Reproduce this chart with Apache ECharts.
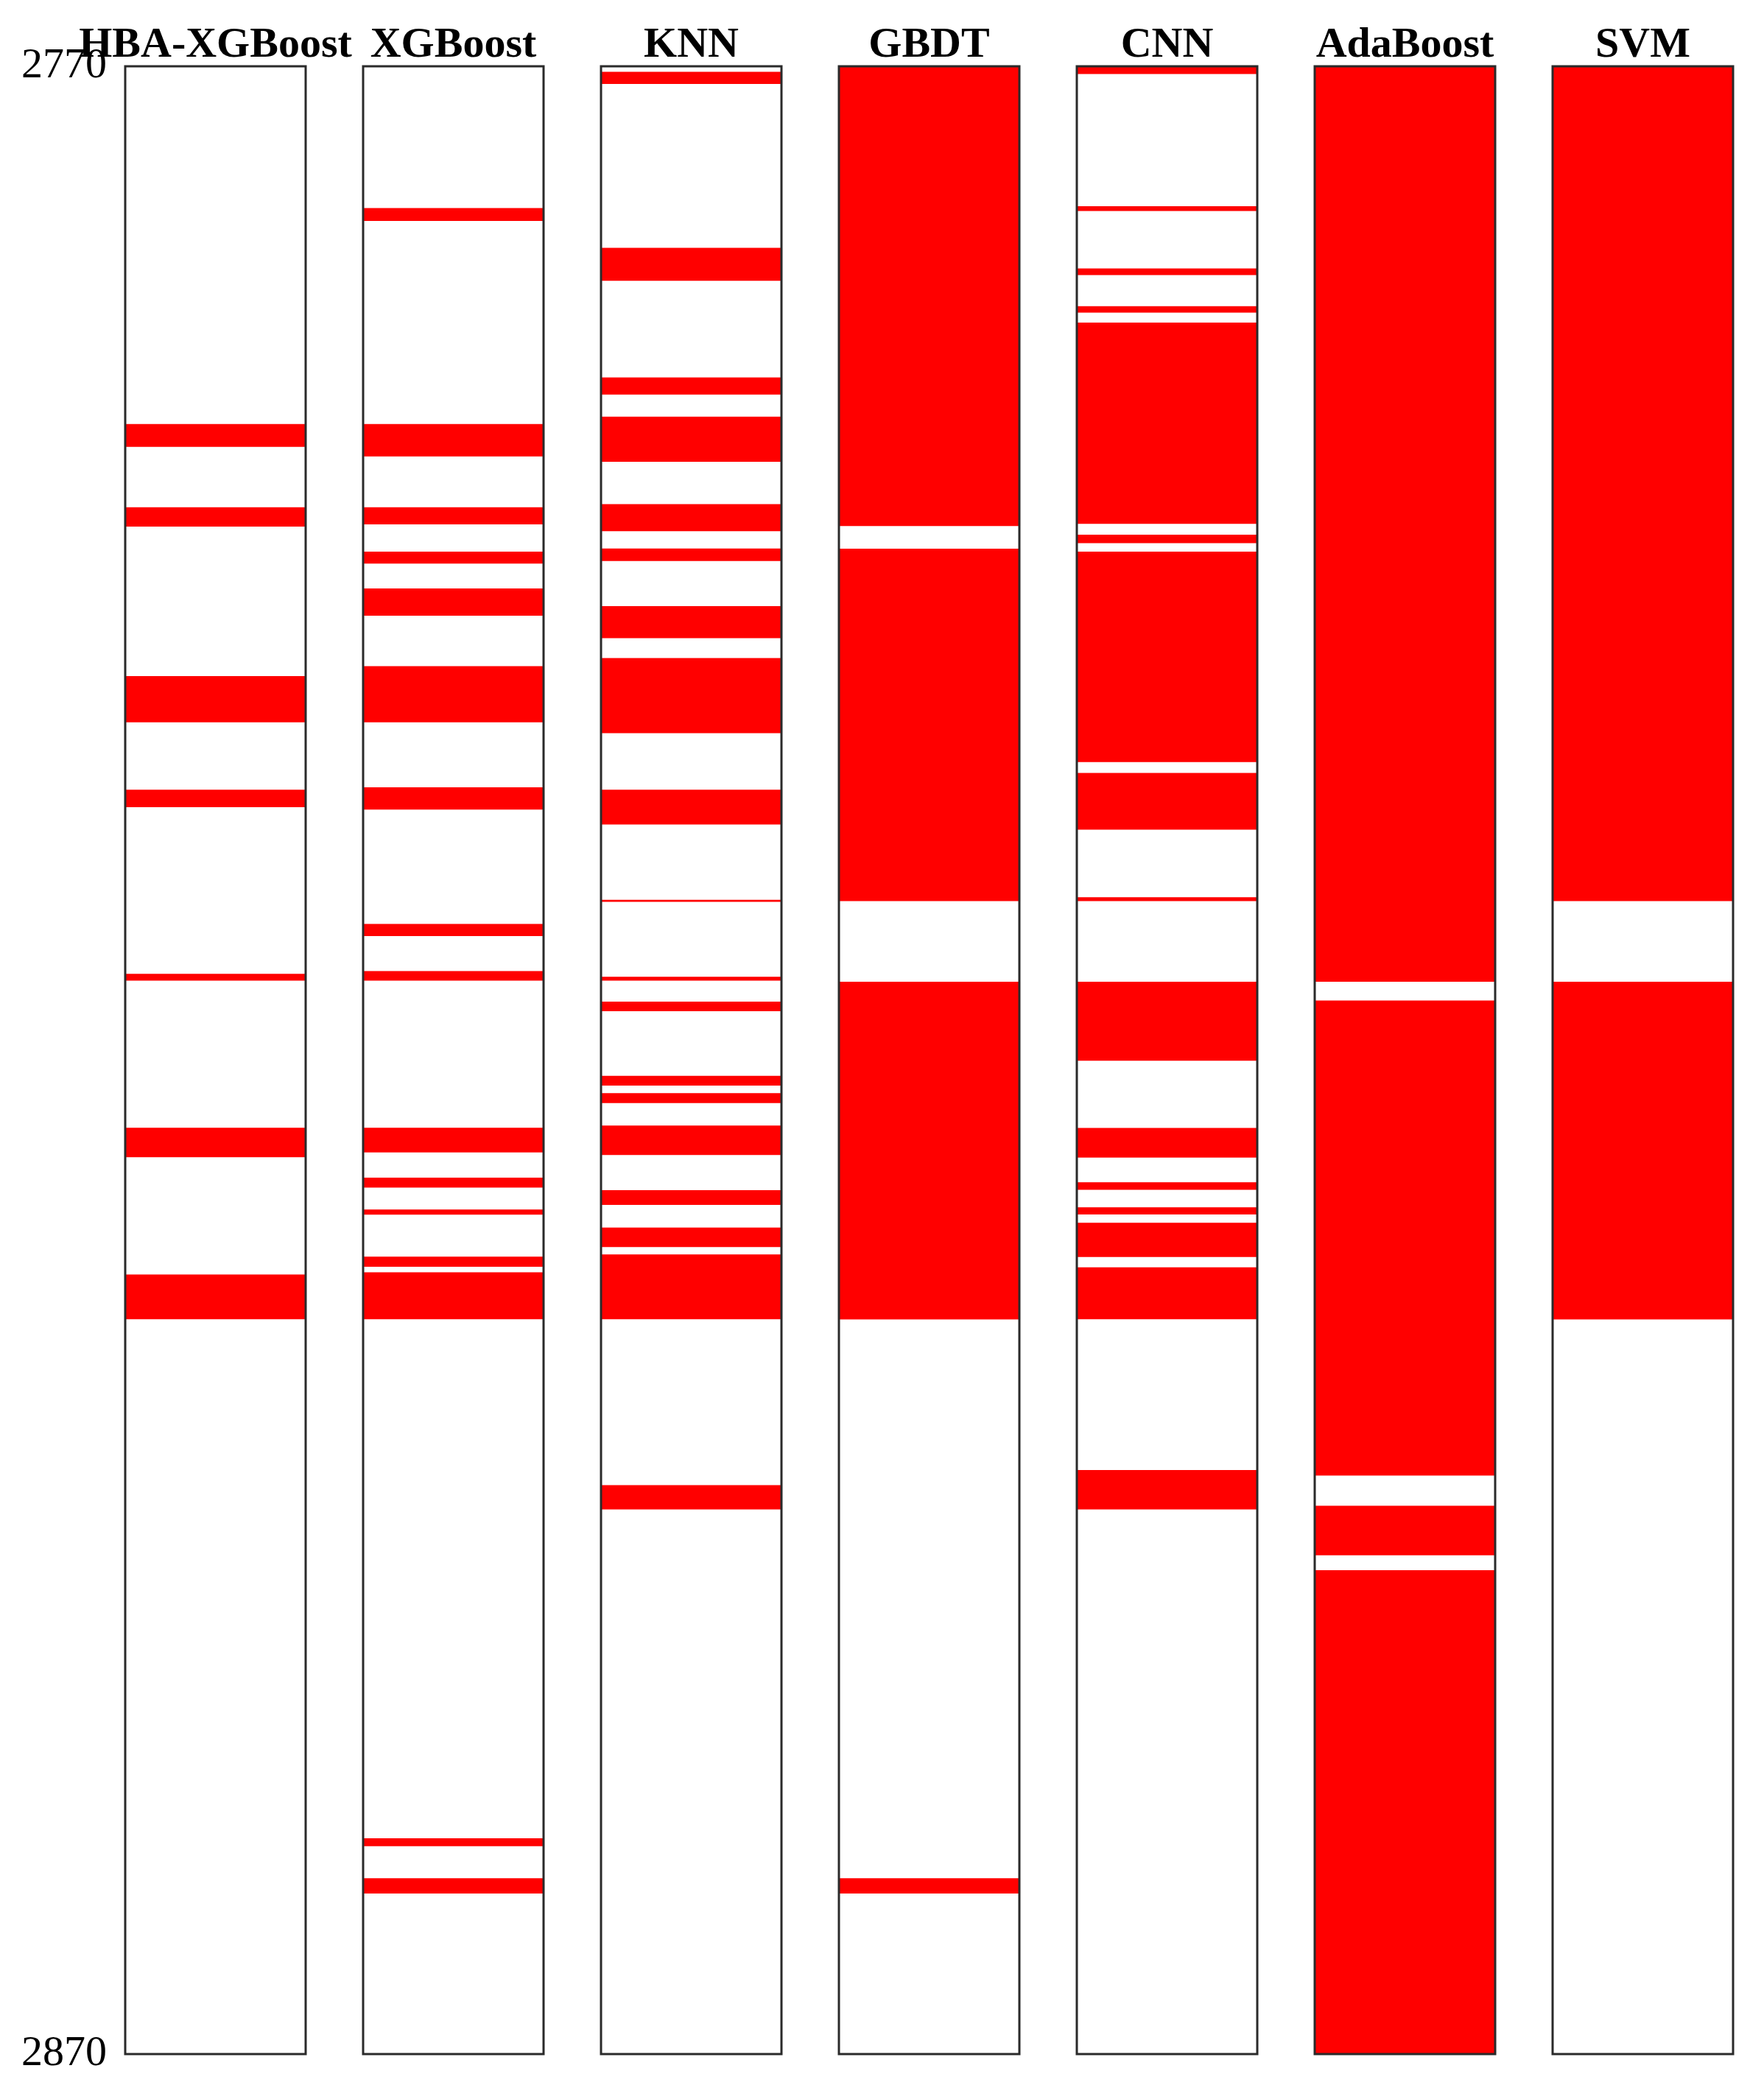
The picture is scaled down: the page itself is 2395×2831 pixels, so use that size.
<!DOCTYPE html>
<html><head><meta charset="utf-8">
<script src="https://cdn.jsdelivr.net/npm/echarts@6/dist/echarts.min.js"></script>
<style>html,body{margin:0;padding:0;background:#fff}#c{width:2395px;height:2831px}</style>
</head><body><div id="c"></div>
<script>
// ---- data ----
const models = ['HBA-XGBoost', 'XGBoost', 'KNN', 'GBDT', 'CNN', 'AdaBoost', 'SVM'];
const depthTicks = [2770, 2870];
// red intervals [top depth, bottom depth] (m)
const hbaXgboost = [[2788.0, 2789.15], [2792.18, 2793.16], [2800.68, 2803.0], [2806.39, 2807.27], [2815.66, 2816.0], [2823.4, 2824.88], [2830.78, 2833.03]];
const xgboost = [[2777.13, 2777.78], [2788.0, 2789.63], [2792.18, 2793.05], [2794.42, 2795.02], [2796.27, 2797.64], [2800.18, 2803.0], [2806.27, 2807.39], [2813.15, 2813.76], [2815.52, 2816.0], [2823.4, 2824.64], [2825.91, 2826.41], [2827.51, 2827.77], [2829.88, 2830.39], [2830.67, 2833.03], [2859.14, 2859.54], [2861.15, 2861.92]];
const knn = [[2770.28, 2770.89], [2779.13, 2780.79], [2785.65, 2786.52], [2787.63, 2789.9], [2792.03, 2793.39], [2794.26, 2794.89], [2797.16, 2798.77], [2799.77, 2803.55], [2806.39, 2808.14], [2811.93, 2812.03], [2815.8, 2816.0], [2817.05, 2817.54], [2820.79, 2821.28], [2821.66, 2822.16], [2823.29, 2824.77], [2826.54, 2827.28], [2828.42, 2829.4], [2829.77, 2833.03], [2841.38, 2842.6]];
const gbdt = [[2770.0, 2793.13], [2794.27, 2812.0], [2816.05, 2833.04], [2861.15, 2861.92]];
const cnn = [[2770.0, 2770.39], [2777.04, 2777.28], [2780.17, 2780.5], [2782.07, 2782.39], [2782.89, 2793.02], [2793.56, 2793.99], [2794.42, 2805.0], [2805.55, 2808.4], [2811.8, 2812.0], [2816.05, 2820.03], [2823.41, 2824.9], [2826.14, 2826.52], [2827.4, 2827.76], [2828.18, 2829.9], [2830.42, 2833.03], [2840.62, 2842.6]];
const adaboost = [[2770.0, 2816.05], [2817.0, 2840.9], [2842.42, 2844.91], [2845.66, 2870.0]];
const svm = [[2770.0, 2812.0], [2816.05, 2833.04]];
const intervals = [hbaXgboost, xgboost, knn, gbdt, cnn, adaboost, svm];

// ---- layout ----
const L0 = 170, PITCH = 323, W = 245, TOP = 90, H = 2699;
const chart = echarts.init(document.getElementById('c'), null, {renderer: 'canvas'});
const grids = [], xAxes = [], yAxes = [], series = [], graphics = [];
models.forEach((m, i) => {
  const left = L0 + PITCH * i;
  grids.push({left: left, top: TOP, width: W, height: H, show: true, borderColor: '#2a2a2a', borderWidth: 3, backgroundColor: 'transparent', z: 10});
  xAxes.push({gridIndex: i, type: 'value', min: 0, max: 1, show: false});
  yAxes.push({
    gridIndex: i, type: 'value', inverse: true, min: depthTicks[0], max: depthTicks[1], interval: 10,
    axisLine: {show: false}, axisTick: {show: false}, splitLine: {show: false},
    axisLabel: {show: i === 0, fontSize: 58, fontFamily: 'Liberation Serif', color: '#000', margin: 25,
      formatter: v => depthTicks.includes(v) ? String(v) : ''}
  });
  series.push({
    type: 'custom', xAxisIndex: i, yAxisIndex: i, data: intervals[i], silent: true, clip: false,
    renderItem: (params, api) => {
      const a = api.coord([0, api.value(0)]);
      const b = api.coord([1, api.value(1)]);
      return {type: 'rect', shape: {x: a[0], y: a[1], width: b[0] - a[0], height: b[1] - a[1]}, style: {fill: '#ff0000'}};
    }
  });
  graphics.push({
    type: 'text', x: left + W / 2, y: 62,
    style: {text: m, align: 'center', verticalAlign: 'middle', fontSize: 58, fontWeight: 'bold', fontFamily: 'Liberation Serif', fill: '#000'}
  });
});
chart.setOption({
  backgroundColor: '#fff', animation: false,
  grid: grids, xAxis: xAxes, yAxis: yAxes, series: series, graphic: graphics
});
</script></body></html>
